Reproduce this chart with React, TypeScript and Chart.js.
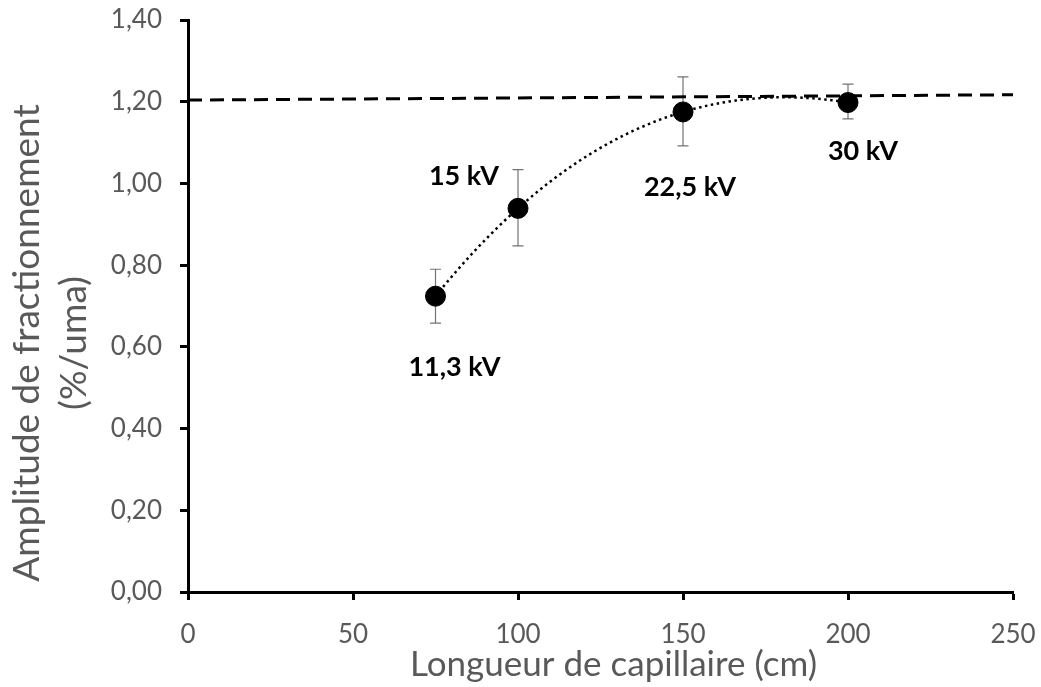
import React, { useEffect, useRef } from "react";
import { Chart, registerables } from "chart.js";

Chart.register(...registerables);

// ---- data ----
const lengths = [75, 100, 150, 200];
const amplitude = [0.724, 0.939, 1.175, 1.198];
const errLow = [0.658, 0.847, 1.092, 1.158];
const errHigh = [0.79, 1.034, 1.261, 1.243];
const voltageLabels = ["11,3 kV", "15 kV", "22,5 kV", "30 kV"];
const plateauX = [0, 250];
const plateauY = [1.204, 1.217];
const xTitle = "Longueur de capillaire (cm)";
const yTitle = ["Amplitude de fractionnement", "(%/uma)"];

// polynomial (order 3) trendline fitted to the measured points, like the spreadsheet trendline
function polyFit(xs: number[], ys: number[], order: number): number[] {
  const n = order + 1;
  const A: number[][] = [];
  for (let r = 0; r < n; r++) {
    const row: number[] = [];
    for (let c = 0; c < n; c++) {
      let s = 0;
      for (let i = 0; i < xs.length; i++) s += Math.pow(xs[i], r + c);
      row.push(s);
    }
    let b = 0;
    for (let i = 0; i < xs.length; i++) b += ys[i] * Math.pow(xs[i], r);
    row.push(b);
    A.push(row);
  }
  for (let p = 0; p < n; p++) {
    let best = p;
    for (let r = p + 1; r < n; r++) if (Math.abs(A[r][p]) > Math.abs(A[best][p])) best = r;
    [A[p], A[best]] = [A[best], A[p]];
    for (let r = 0; r < n; r++) {
      if (r === p) continue;
      const f = A[r][p] / A[p][p];
      for (let c = p; c <= n; c++) A[r][c] -= f * A[p][c];
    }
  }
  return A.map((row, i) => row[n] / row[i]);
}

function trendPoints() {
  const coef = polyFit(lengths, amplitude, 3);
  const pts: { x: number; y: number }[] = [];
  const x0 = lengths[0];
  const x1 = lengths[lengths.length - 1];
  for (let x = x0; x <= x1; x += 1) {
    let y = 0;
    for (let k = 0; k < coef.length; k++) y += coef[k] * Math.pow(x, k);
    pts.push({ x, y });
  }
  return pts;
}

const GRAY = "#595959";
const FONT = "Lato";

const errorBarPlugin = {
  id: "errorBars",
  beforeDatasetsDraw(chart: any) {
    const { ctx, scales } = chart;
    const xs = scales.x;
    const ys = scales.y;
    ctx.save();
    ctx.strokeStyle = "#737373";
    ctx.lineWidth = 1.2;
    for (let i = 0; i < lengths.length; i++) {
      const px = xs.getPixelForValue(lengths[i]);
      const top = ys.getPixelForValue(errHigh[i]);
      const bot = ys.getPixelForValue(errLow[i]);
      ctx.beginPath();
      ctx.moveTo(px, top);
      ctx.lineTo(px, bot);
      ctx.moveTo(px - 5.5, top);
      ctx.lineTo(px + 5.5, top);
      ctx.moveTo(px - 5.5, bot);
      ctx.lineTo(px + 5.5, bot);
      ctx.stroke();
    }
    ctx.restore();
  },
};

const labelOffsets = [
  [19, 71],
  [-54, -32],
  [7, 75],
  [15, 49],
];

const pointLabelPlugin = {
  id: "pointLabels",
  afterDatasetsDraw(chart: any) {
    const { ctx, scales } = chart;
    ctx.save();
    ctx.fillStyle = "#000";
    ctx.font = `bold 27px ${FONT}`;
    ctx.textAlign = "center";
    ctx.textBaseline = "middle";
    for (let i = 0; i < lengths.length; i++) {
      const px = scales.x.getPixelForValue(lengths[i]);
      const py = scales.y.getPixelForValue(amplitude[i]);
      ctx.fillText(voltageLabels[i], px + labelOffsets[i][0], py + labelOffsets[i][1]);
    }
    ctx.restore();
  },
};

const titlePlugin = {
  id: "axisTitles",
  afterDraw(chart: any) {
    const { ctx, chartArea } = chart;
    ctx.save();
    ctx.fillStyle = GRAY;
    ctx.textAlign = "center";
    ctx.textBaseline = "middle";
    ctx.font = `35px ${FONT}`;
    ctx.fillText(xTitle, (chartArea.left + chartArea.right) / 2 + 13, chart.height - 22);
    ctx.font = `37px ${FONT}`;
    ctx.translate(27, (chartArea.top + chartArea.bottom) / 2 + 37);
    ctx.rotate(-Math.PI / 2);
    ctx.fillText(yTitle[0], 0, 0);
    ctx.fillText(yTitle[1], 0, 47);
    ctx.restore();
  },
};

export default function App() {
  const ref = useRef<HTMLCanvasElement | null>(null);

  useEffect(() => {
    if (!ref.current) return;
    const chart = new Chart(ref.current, {
      type: "scatter",
      data: {
        datasets: [
          {
            type: "line",
            label: "plateau",
            data: plateauX.map((x, i) => ({ x, y: plateauY[i] })),
            borderColor: "#000",
            borderWidth: 3,
            borderDash: [14, 8],
            pointRadius: 0,
            fill: false,
            order: 0,
          } as any,
          {
            label: "mesures",
            data: lengths.map((x, i) => ({ x, y: amplitude[i] })),
            backgroundColor: "#000",
            borderColor: "#000",
            pointRadius: 10,
            pointHoverRadius: 10,
            showLine: false,
            order: 1,
          },
          {
            type: "line",
            label: "tendance",
            data: trendPoints(),
            borderColor: "#000",
            borderWidth: 2.5,
            borderDash: [2.5, 3.5],
            pointRadius: 0,
            fill: false,
            tension: 0,
            order: 2,
          } as any,
        ],
      },
      options: {
        animation: false,
        responsive: true,
        maintainAspectRatio: false,
        layout: { padding: { top: 20, right: 28, left: 0, bottom: 0 } },
        plugins: {
          legend: { display: false },
          tooltip: { enabled: false },
        },
        scales: {
          x: {
            type: "linear",
            min: 0,
            max: 250,
            afterFit: (s: any) => {
              s.height = 95;
              s.paddingLeft = 0;
              s.paddingRight = 0;
            },
            ticks: {
              stepSize: 50,
              color: GRAY,
              font: { family: FONT, size: 26 },
              padding: 19,
            },
            grid: {
              drawOnChartArea: false,
              drawTicks: true,
              tickLength: 8,
              tickWidth: 3,
              tickColor: "#000",
            },
            border: { display: true, color: "#000", width: 3 },
          },
          y: {
            type: "linear",
            min: 0,
            max: 1.4,
            afterFit: (s: any) => {
              s.width = 188;
              s.paddingTop = 0;
              s.paddingBottom = 0;
            },
            ticks: {
              stepSize: 0.2,
              color: GRAY,
              font: { family: FONT, size: 26 },
              padding: 18,
              callback: (v: any) => Number(v).toFixed(2).replace(".", ","),
            },
            grid: {
              drawOnChartArea: false,
              drawTicks: true,
              tickLength: 8,
              tickWidth: 3,
              tickColor: "#000",
            },
            border: { display: true, color: "#000", width: 3 },
          },
        },
      },
      plugins: [errorBarPlugin, pointLabelPlugin, titlePlugin],
    });
    return () => chart.destroy();
  }, []);

  return (
    <div style={{ position: "fixed", left: 0, top: 0, width: 1041, height: 687, background: "#fff" }}>
      <canvas ref={ref} />
    </div>
  );
}
